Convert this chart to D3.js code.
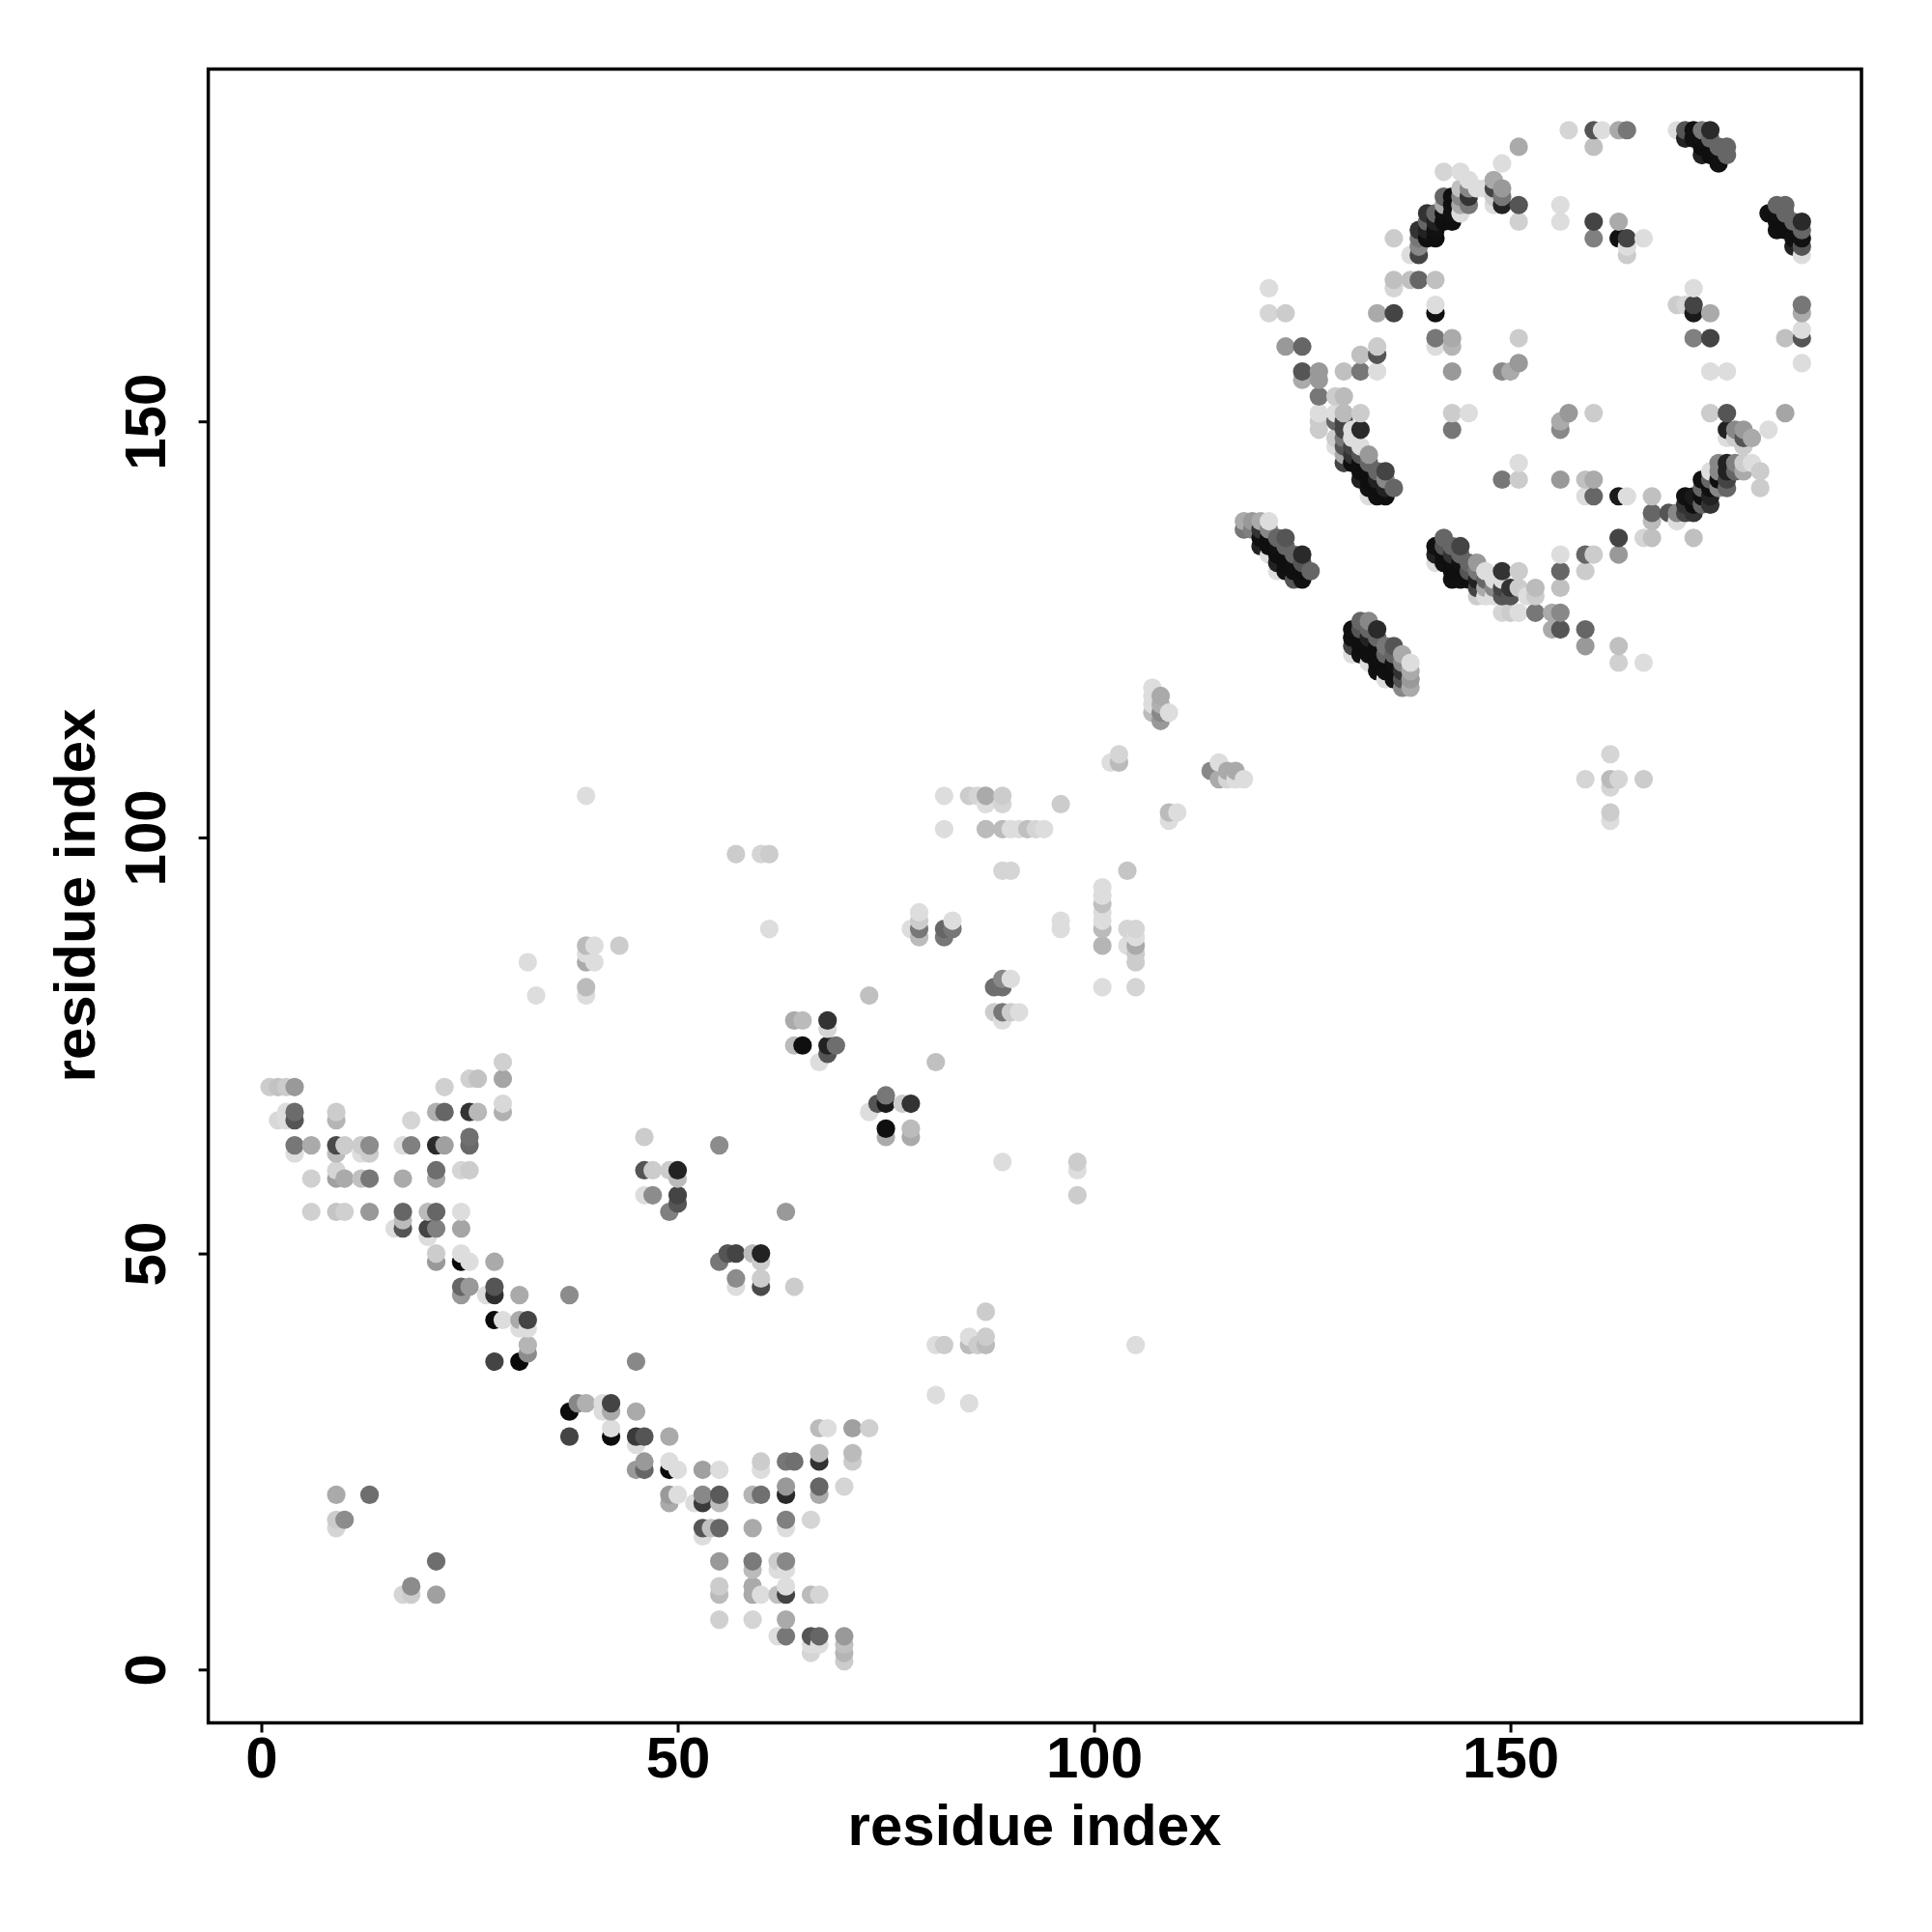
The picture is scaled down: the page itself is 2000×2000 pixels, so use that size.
<!DOCTYPE html>
<html><head><meta charset="utf-8"><script src="https://cdnjs.cloudflare.com/ajax/libs/d3/7.8.5/d3.min.js"></script>
<style>html,body{margin:0;padding:0;background:#fff}svg{display:block}text{font-family:"Liberation Sans",Arial,sans-serif;font-weight:bold;fill:#000}</style></head>
<body><svg id="c" width="2000" height="2000"></svg>
<script>
const tickValues=[0,50,100,150];
const axisTitle="residue index";
const residueColumns=[1,2,3,4,6,9,10,12,13,16,17,18,20,21,22,24,25,26,27,28,29,31,32,33,37,38,39,40,41,42,43,45,46,47,49,50,52,53,54,55,56,57,59,60,61,62,63,64,65,66,67,68,69,70,71,73,74,75,77,78,79,81,82,83,85,86,87,88,89,90,91,92,93,94,96,98,101,102,103,104,105,107,108,109,110,114,115,116,117,118,119,120,121,122,123,124,125,126,127,129,130,131,132,133,134,135,136,137,138,139,140,141,142,143,144,145,146,147,148,149,150,151,152,153,155,156,157,159,160,161,162,163,164,166,167,169,170,171,172,173,174,175,176,177,178,179,180,181,182,183,184,185];
const partnerResidues=[
[70],[70,66],[70,67,66],[70,67,66,63,62],[63,59,55],
[67,66,63,62,60,59,55,21,18,17],[63,59,55,18],[63,62,59],[63,62,59,55,21],[53],
[63,59,55,54,53,9],[66,63,10,9],[55,53,52],[67,63,60,59,55,53,50,49,13,9],[70,67,63],
[60,55,53,50,49,46,45],[71,67,64,63,60,49,46],[71,67],[45],[49,46,45,42,37],
[73,71,68,67,42],[45,42,41,37],[85,42,41,39,38],[81],[45,31,28],
[32],[105,87,86,85,82,81,32],[87,85],[32,31],[32,31,29,28],
[87],[37,31,28,27,24],[64,60,57,28,25,24],[60,57],[60,55,28,25,24,21,20],
[60,59,57,56,24,21],[20],[24,21,20,17,16],[17],[63,49,24,21,20,17,13,10,9,6],
[50],[98,50,47,46],[50,21,17,13,12,10,9,6],[98,50,49,47,46,25,24,21,9],[98,89],
[13,12,9,4],[55,25,22,21,18,17,13,12,10,9,6,4],[78,75,46,25],[78,75],[18,9,4,3,2],
[73,29,26,25,22,21,9,4,3],[78,77,75,74,29],[75],[22,4,3,2,1],[29,26,25],
[81,67,29],[68],[69,68,65,64],[68],[89,68,65,64],
[91,90,89,88],[73,39,33],[105,101,89,88,39],[90,89],[105,40,39,32],
[105,39],[105,104,101,43,40,39],[82,79],[105,104,101,96,83,82,79,78,61],[101,96,83,79],
[101,79],[101],[101],[101],[104,90,89],
[61,60,57],[94,93,92,91,90,89,87,82],[109],[110,109],[96,89,87],
[89,88,87,86,85,82,39],[118,117,116,115],[117,116,115,114],[115,103,102],[103],
[108],[109,107],[108,107],[108,107],[138,137,107],
[138,137],[138,137,136,135],[166,163,138,137,136,135,134],[136,135,134,133,132],[163,159,136,135,134,133,132],
[134,133,132,131],[159,156,155,134,133,132,131],[132],[156,155,153,151,150,149],[153,151,150,148,147],
[156,153,151,150,149,148,147,146,145],
[149,148,147,146,145,125,124,123,122],
[158,156,151,149,147,146,145,144,143,126,125,124,123,122],
[146,145,144,143,142,141,126,125,124,123,122,121],
[163,159,158,156,144,143,142,141,125,124,123,122,121,120],
[144,143,142,141,123,122,121,120,119],
[172,167,166,163,142,123,122,121,120,119],
[122,121,120,119,118],
[170,167,121,120,119,118],
[173,172,171,170,167],
[175,174,173,172],
[175,174,173,172,167,164,163,160,159,135,134,133],
[180,177,176,175,174,136,135,134,133],
[177,176,175,174,160,159,156,151,149,135,134,133,132,131],
[180,178,177,176,175,135,134,133,132,131],
[179,178,177,176,151,133,132,131],
[178,133,132,131,130,129],
[178,132,131,130,129],
[179,178,177,176,131,130,129],
[181,178,177,176,156,143,132,131,130,129,127],
[156,130,129,127],
[183,176,174,160,157,145,143,132,130,127],
[129],[130,129,127],[127,125],
[176,174,150,149,143,134,132,130,127,125],
[185,151],
[143,141,134,132,125,123,107],
[185,183,174,172,151,143,141,134],
[185],[110,107,106,103,102],
[185,174,172,141,136,134,123,121,107],
[185,172,171,170,141],
[172,136,121,107],
[141,139,138,136],
[139],
[185,164,139,138],
[185,184,164,141,140,139],
[185,184,166,164,163,160,141,140,139,136],
[185,184,183,182,143,142,141,140],
[185,184,183,182,163,160,156,151,144,143,142,141,140],
[183,182,181,145,144,143,142],
[183,182,156,151,149,148,145,144,143,142],
[149,148,145,144],
[149,148,147,145,144],
[148,145],[144,142],[175,149],
[176,175,174,173],
[176,175,174,173,160,151],
[174,173,172,171],
[174,173,172,171,170,164,163,161,160,157]
];
const contactShades=[
[204],[194,216],[204,221,221],[153,108,85,119,221],[170,208,208],
[204,181,74,187,213,160,197,170,204,213],[204,170,208,140],[204,221,192],[140,204,119,153,110],[221],
[221,170,102,187,85,213],[213,128,140,204],[187,68,221],[176,42,110,170,102,128,204,153,110,160],[208,102,160],
[213,221,165,221,10,102,153],[208,51,112,105,204,221,153],[194,184],[221],[170,85,47,10,68],
[208,165,216,176,221],[170,170,221,10],[221,68,221,181,140],[221],[140,12,68],
[136],[221,187,221,170,187,221,176],[221,221],[221,221],[68,170,221,12],
[204],[136,170,58,221,153],[204,85,221,85,153,102],[204,140],[204,128,170,221,12,153,170],
[34,187,68,85,221,221],[221],[160,136,58,85,221],[192],[140,119,221,90,187,102,153,204,187,208],
[85],[204,68,140,221],[187,181,170,122,187,170,170,213],[213,34,204,204,74,204,221,112,221],[204,221],
[204,221,192,221],[153,119,153,42,128,221,136,221,221,68,170,119],[170,187,204,112],[187,15],[213,187,85,221,213],
[221,187,187,51,102,170,213,102,221],[51,213,34,85,221],[110],[213,153,192,181,204],[160,187,204],
[192,221,208],[85],[119,26,15,170],[204],[221,51,187,170],
[221,204,119,187],[192,221,221],[221,221,102,119,204],[221,119],[204,221,187,221],
[213,204],[170,221,187,204,204,187],[110,204],[204,213,187,213,136,110,119,221,221],[221,213,221,204],
[221,221],[192],[213],[221],[204,221,221],
[204,221,204],[221,221,192,221,221,187,181,221],[221],[213,187],[197,213,221],
[213,221,170,204,204,213,221],[221,221,221,187],[170,176,136,153],[221,187,221],[221],
[136],[221,170],[170,213],[170,221],[170,119,221],
[153,128],[170,51,17,34],[221,213,221,136,15,15,221],[102,17,15,34,221],[204,153,85,102,15,15,17],
[102,17,15,85],[102,85,170,42,85,15,17],[102],[153,153,119,221,204,204],[204,221,102,204,221],
[192,187,187,68,68,119,85,170,68],
[221,221,68,51,15,17,17,68,221],
[192,119,204,42,221,85,15,15,34,102,85,15,15,17],
[153,102,15,15,17,221,136,102,34,15,15,221],
[170,204,85,221,102,34,15,17,42,102,15,15,15,17],
[68,136,34,15,119,102,15,17,221],
[204,192,213,68,102,85,102,17,15,17],
[170,136,51,85,136],
[221,192,221,170,153,170],
[51,119,136,68,102],
[51,102,34,15],
[102,34,17,15,192,221,17,119,221,17,34,221],
[213,102,170,17,15,102,85,15,17],
[15,17,17,15,170,181,153,204,119,102,51,15,15,17],
[221,192,136,170,221,68,102,17,15,17],
[221,136,51,119,221,102,85,15],
[221,153,119,34,68,204],
[221,221,102,170,221],
[170,68,204,221,221,136,221],
[221,153,119,34,136,119,51,221,68,85,213],
[170,51,85,204],
[170,85,208,204,153,221,204,204,204,221],
[221],[187,204,119],[170,170],
[221,221,170,136,153,221,102,192,136,85],
[213,153],
[192,221,102,204,102,153,213],
[85,192,68,128,204,170,102,204],
[221],[213,187,213,204,221],
[170,170,17,26,68,153,192,208,213],
[119,68,221,204,221],
[221,213,221,204],
[192,102,187,192],
[85],
[221,204,136,221],
[85,34,213,17,51,68],
[17,17,221,68,26,128,26,15,51,192],
[119,17,15,34,17,102,15,102],
[42,102,15,15,170,68,221,204,221,102,15,34,51],
[102,17,17,136,136,15,136],
[102,102,221,85,34,221,34,34,68,102],
[136,204,128,102],
[153,85,204,204,170],
[170,221],[204,204],[17,221],
[102,17,15,17],
[102,102,15,15,192,165],
[102,15,17,34],
[42,102,17,85,221,119,170,221,85,221]
];

const points=[];
residueColumns.forEach((x,i)=>{
  partnerResidues[i].forEach((y,j)=>points.push({x,y,g:contactShades[i][j]}));
});
points.sort((a,b)=>a.x-b.x||a.y-b.y);

const plotLeft=215.6,plotRight=1927,plotTop=71.5,plotBottom=1783.5;
const xScale=d3.scaleLinear().domain([-6.37,192.16]).range([plotLeft,plotRight]);
const yScale=d3.scaleLinear().domain([-6.41,192.34]).range([plotBottom,plotTop]);
const svg=d3.select("#c");

svg.append("g").selectAll("circle").data(points).join("circle")
  .attr("cx",d=>xScale(d.x)).attr("cy",d=>yScale(d.y)).attr("r",9.6)
  .attr("fill",d=>d3.rgb(d.g,d.g,d.g).formatHex());

svg.append("rect").attr("x",plotLeft).attr("y",plotTop).attr("width",plotRight-plotLeft).attr("height",plotBottom-plotTop)
  .attr("fill","none").attr("stroke","#000").attr("stroke-width",3.5);

const gx=svg.append("g").attr("transform",`translate(0,${plotBottom})`)
  .call(d3.axisBottom(xScale).tickValues(tickValues).tickSize(10).tickPadding(0).tickFormat(d3.format("d")));
gx.select(".domain").remove();
gx.selectAll("line").attr("stroke","#000").attr("stroke-width",3);
gx.selectAll("text").attr("font-size",60).attr("y",0).attr("dy",0).attr("transform","translate(0,56)");

const gy=svg.append("g").attr("transform",`translate(${plotLeft},0)`)
  .call(d3.axisLeft(yScale).tickValues(tickValues).tickSize(10).tickPadding(0).tickFormat(d3.format("d")));
gy.select(".domain").remove();
gy.selectAll("line").attr("stroke","#000").attr("stroke-width",3);
gy.selectAll("text").attr("font-size",60).attr("x",0).attr("y",0).attr("dy",0)
  .attr("text-anchor","middle").attr("transform","translate(-45,0) rotate(-90)");

svg.append("text").attr("x",1071).attr("y",1910).attr("text-anchor","middle").attr("font-size",60).text(axisTitle);
svg.append("text").attr("transform","translate(98,927) rotate(-90)").attr("text-anchor","middle").attr("font-size",60).text(axisTitle);
</script></body></html>
